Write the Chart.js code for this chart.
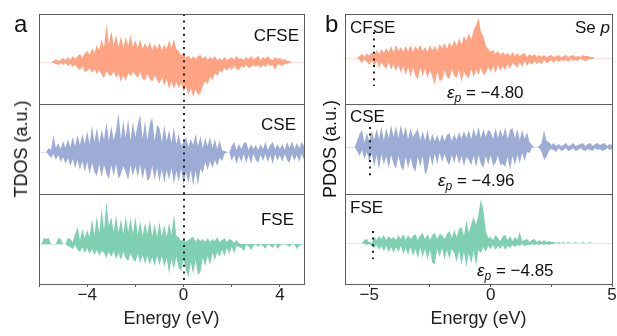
<!DOCTYPE html>
<html><head><meta charset="utf-8">
<script src="https://cdn.jsdelivr.net/npm/chart.js@4/dist/chart.umd.min.js"></script>
<style>
html,body{margin:0;padding:0;background:#fff;}
#wrap{position:relative;width:617px;height:336px;overflow:hidden;font-family:Arial,"Liberation Sans",sans-serif;color:#111;}
canvas{position:absolute;top:0;}
.t{position:absolute;white-space:nowrap;line-height:1;font-size:17px;}
.big{font-size:24px;}
.ax{font-size:18px;transform:translate(-50%,-50%) rotate(-90deg);}
sub{font-size:12px;vertical-align:-4px;line-height:0;}
</style></head><body>
<div id="wrap">
<canvas id="ca" width="310" height="336" style="left:0"></canvas>
<canvas id="cb" width="307" height="336" style="left:310px"></canvas>
<div class="t big" style="left:14px;top:12px">a</div>
<div class="t big" style="left:325px;top:12px">b</div>
<div class="t ax" style="left:21px;top:149px">TDOS (a.u.)</div>
<div class="t ax" style="left:330px;top:149px">PDOS (a.u.)</div>
<div class="t" style="right:318px;top:27px">CFSE</div>
<div class="t" style="right:321px;top:116px">CSE</div>
<div class="t" style="right:323px;top:211px">FSE</div>
<div class="t" style="left:350px;top:19px">CFSE</div>
<div class="t" style="right:7px;top:19px">Se <i>p</i></div>
<div class="t" style="left:350px;top:108px">CSE</div>
<div class="t" style="left:350px;top:199px">FSE</div>
<div class="t" style="left:447px;top:84px"><i>ε</i><sub><i>p</i></sub> = −4.80</div>
<div class="t" style="left:438px;top:172px"><i>ε</i><sub><i>p</i></sub> = −4.96</div>
<div class="t" style="left:477px;top:262px"><i>ε</i><sub><i>p</i></sub> = −4.85</div>
</div>
<script>
// Energy grid (eV)
const energy = [
-6.0,-5.9,-5.8,-5.7,-5.6,-5.5,-5.4,-5.3,-5.2,-5.1,
-5.0,-4.9,-4.8,-4.7,-4.6,-4.5,-4.4,-4.3,-4.2,-4.1,
-4.0,-3.9,-3.8,-3.7,-3.6,-3.5,-3.4,-3.3,-3.2,-3.1,
-3.0,-2.9,-2.8,-2.7,-2.6,-2.5,-2.4,-2.3,-2.2,-2.1,
-2.0,-1.9,-1.8,-1.7,-1.6,-1.5,-1.4,-1.3,-1.2,-1.1,
-1.0,-0.9,-0.8,-0.7,-0.6,-0.5,-0.4,-0.3,-0.2,-0.1,
0.0,0.1,0.2,0.3,0.4,0.5,0.6,0.7,0.8,0.9,
1.0,1.1,1.2,1.3,1.4,1.5,1.6,1.7,1.8,1.9,
2.0,2.1,2.2,2.3,2.4,2.5,2.6,2.7,2.8,2.9,
3.0,3.1,3.2,3.3,3.4,3.5,3.6,3.7,3.8,3.9,
4.0,4.1,4.2,4.3,4.4,4.5,4.6,4.7,4.8,4.9,5.0];

// Panel a: TDOS (spin up / spin down)
const tdosCFSEup = [
0,0,0,0,0,0,1,3,1,2,
4,2,5,2,6,3,6,8,4,9,
11,7,14,9,17,12,23,14,38,18,
31,17,27,15,26,14,25,16,27,15,
22,14,23,13,19,14,20,12,18,13,
19,12,17,13,22,14,23,13,11,7,
9,4,7,3,6,3,6,7,3,6,
2,5,3,6,2,4,2,5,2,3,
5,2,6,3,4,2,5,3,6,3,
4,6,2,5,3,6,3,2,5,3,
4,2,3,1,1,0,0,0,0,0,0];
const tdosCFSEdn = [
0,0,0,0,0,0,-1,-2,-3,-1,
-3,-1,-4,-2,-5,-3,-6,-8,-4,-10,
-9,-6,-11,-7,-12,-8,-13,-16,-9,-13,
-14,-9,-16,-12,-20,-13,-19,-11,-14,-10,
-13,-16,-10,-17,-18,-12,-17,-20,-13,-18,
-22,-15,-24,-17,-27,-19,-27,-20,-26,-21,
-30,-24,-33,-26,-35,-27,-33,-31,-24,-19,
-22,-15,-18,-11,-14,-9,-10,-6,-9,-5,
-8,-4,-7,-8,-4,-6,-3,-6,-5,-3,
-5,-3,-6,-3,-5,-2,-4,-3,-8,-2,
-3,-4,-2,-2,-1,0,0,0,0,0,0];
const tdosCSEup = [
0,0,0,0,4,2,17,4,9,3,
11,4,13,5,15,6,17,7,18,8,
21,8,26,10,24,9,22,12,30,11,
26,12,22,39,13,31,14,33,12,30,
15,28,37,13,31,12,29,34,11,27,
24,10,27,11,22,9,25,8,18,6,
10,15,5,13,7,18,6,16,4,14,
6,15,4,13,3,12,2,1,0,0,
6,10,2,8,3,9,10,2,8,3,
7,2,8,3,10,2,7,10,3,8,
3,8,2,10,4,11,3,9,4,10,6];
const tdosCSEdn = [
0,0,0,0,-3,-6,-2,-8,-3,-10,
-5,-12,-6,-14,-7,-16,-8,-18,-9,-20,
-10,-22,-11,-20,-24,-12,-25,-13,-22,-27,
-13,-24,-12,-27,-22,-14,-20,-28,-13,-24,
-14,-25,-13,-27,-15,-29,-26,-14,-28,-16,
-30,-17,-31,-18,-28,-16,-32,-19,-30,-17,
-33,-20,-32,-18,-34,-19,-33,-17,-21,-10,
-18,-9,-16,-8,-14,-6,-9,-2,0,0,
-9,-3,-12,-4,-10,-2,-11,-3,-12,-2,
-8,-11,-3,-9,-2,-10,-3,-12,-2,-9,
-3,-10,-2,-8,-11,-2,-9,-3,-10,-2,-8];
const tdosFSEup = [
0,0,6,5,6,0,0,0,6,5,
0,0,6,5,2,10,17,4,15,6,
14,7,25,9,28,11,35,14,42,18,
27,12,29,11,25,10,28,12,26,10,
27,9,23,8,21,10,24,8,20,7,
22,8,19,7,21,9,30,8,7,3,
5,2,4,6,7,2,6,3,5,2,
6,2,5,3,7,2,4,6,2,5,
4,1,4,1,0,0,0,0,0,0,
0,0,0,0,0,0,0,0,0,0,
0,0,0,0,0,0,0,0,0,0,0];
const tdosFSEdn = [
0,0,0,0,0,0,0,0,0,0,
0,0,-2,-3,-5,-1,-6,-8,-3,-9,
-4,-10,-5,-11,-6,-12,-7,-9,-14,-8,
-13,-7,-15,-9,-16,-8,-14,-17,-9,-15,
-18,-10,-19,-11,-20,-12,-21,-13,-22,-12,
-21,-12,-23,-14,-30,-15,-25,-13,-24,-27,
-15,-26,-33,-18,-30,-16,-31,-28,-14,-22,
-12,-21,-9,-16,-8,-13,-6,-12,-4,-10,
-3,-9,-2,-3,-4,-7,-1,-2,-6,-2,
0,-3,0,-2,-5,0,-2,-4,0,-5,
-2,0,0,-1,-3,0,0,-5,-2,0,0];

// Panel b: Se p PDOS (spin up / spin down)
const pdosCFSEup = [
0,0,0,0,0,0,2,4,1,5,
2,6,3,8,4,9,5,10,6,12,
5,13,7,11,6,12,7,13,6,12,
8,13,7,11,6,13,8,12,7,14,
10,15,9,16,11,18,12,20,13,22,
17,25,18,28,33,40,26,22,12,9,
6,8,4,7,3,6,3,5,2,6,
2,5,2,4,5,1,4,2,4,1,
3,1,3,1,2,3,1,2,3,1,
2,3,1,2,3,1,2,1,3,2,
2,1,1,0,0,0,0,0,0,0,0];
const pdosCFSEdn = [
0,0,0,0,0,0,-2,-5,-1,-4,
-7,-2,-9,-3,-10,-4,-8,-11,-4,-12,
-6,-13,-7,-15,-8,-17,-9,-19,-10,-18,
-21,-10,-18,-11,-20,-12,-19,-27,-13,-23,
-22,-12,-19,-21,-11,-18,-20,-12,-24,-14,
-18,-20,-11,-19,-12,-17,-10,-17,-15,-9,
-14,-8,-15,-7,-13,-8,-12,-6,-11,-5,
-7,-10,-4,-9,-3,-8,-4,-7,-3,-6,
-4,-6,-2,-5,-4,-2,-5,-2,-4,-2,
-3,-2,-4,-1,-3,-2,-3,-1,-2,-3,
-2,-1,-1,0,0,0,0,0,0,0,0];
const pdosCSEup = [
0,0,0,0,0,6,13,17,4,14,
6,16,7,18,8,20,7,19,9,22,
10,21,9,22,11,20,8,19,10,14,
18,7,16,6,17,5,13,6,12,5,
13,6,12,14,6,13,7,15,8,16,
9,17,8,19,10,20,9,18,10,17,
15,8,19,9,18,10,20,8,17,19,
9,18,7,17,8,15,5,2,0,0,
1,4,17,6,5,2,4,1,3,1,
2,4,1,2,4,1,2,3,4,1,
3,4,1,3,4,2,3,4,1,3,2];
const pdosCSEdn = [
0,0,0,0,0,-4,-9,-3,-12,-5,
-15,-6,-20,-8,-23,-7,-18,-9,-21,-8,
-17,-22,-9,-19,-24,-10,-21,-11,-20,-25,
-10,-20,-9,-28,-22,-8,-19,-7,-17,-6,
-15,-7,-14,-18,-8,-16,-7,-17,-9,-19,
-10,-13,-18,-9,-20,-8,-17,-21,-9,-18,
-8,-19,-16,-9,-18,-17,-20,-10,-23,-9,
-18,-8,-16,-6,-14,-5,-6,-1,0,0,
-1,-5,-13,-10,-4,-2,-3,-5,-1,-4,
-3,-1,-4,-3,-1,-4,-3,-1,-3,-4,
-2,-3,-4,-1,-3,-2,-4,-3,-1,-3,-2];
const pdosFSEup = [
0,0,0,0,0,0,0,0,3,4,
1,0,6,3,7,4,8,3,7,4,
6,3,8,4,9,3,8,4,7,9,
3,8,10,4,9,3,8,10,4,9,
8,4,9,12,5,13,6,14,16,7,
23,10,19,26,18,29,44,33,12,5,
6,3,8,5,2,7,8,3,7,2,
6,3,11,2,3,4,1,3,4,1,
3,1,3,1,2,1,1,0,1,0,
1,0,1,0,0,1,0,0,1,0,
0,1,0,0,0,0,0,0,0,0,0];
const pdosFSEdn = [
0,0,0,0,0,0,0,0,-1,-2,
-1,-3,-5,-2,-7,-3,-8,-3,-9,-4,
-10,-4,-9,-3,-11,-5,-12,-4,-13,-6,
-15,-5,-14,-6,-17,-7,-20,-21,-6,-14,
-5,-17,-7,-16,-6,-10,-19,-8,-22,-9,
-24,-10,-21,-8,-23,-7,-10,-4,-9,-3,
-6,-2,-7,-3,-6,-2,-7,-3,-5,-2,
-4,-2,-3,-1,-3,-2,-2,-1,-2,-1,
-2,-1,-2,-1,-2,-1,-1,0,-1,0,
0,0,0,0,0,0,0,0,0,0,
0,0,0,0,0,0,0,0,0,0,0];

// Reference energies
const fermiLevel = 0;
const epsP = [-4.80, -4.96, -4.85]; // CFSE, CSE, FSE

// Tick values / labels
const ticksA = [-6, -4, -2, 0, 2, 4];
const tickLabelsA = ['', '\u22124', '', '0', '', '4'];
const ticksB = [-5, -2.5, 0, 2.5, 5];
const tickLabelsB = ['\u22125', '', '0', '', '5'];

const COL = {CFSE: '#FFA382', CSE: '#9DACD5', FSE: '#7FCFB2'};
const LIGHT = {CFSE: '#FDE3D8', CSE: '#DCE2F1', FSE: '#D3F0E5'};

function pts(arr) { return energy.map((e, i) => ({x: e, y: arr[i]})); }
function ds(arr, color, axis) {
  return {data: pts(arr), yAxisID: axis, backgroundColor: color, borderWidth: 0,
    pointRadius: 0, fill: 'origin', tension: 0};
}

const decor = {
  id: 'decor',
  beforeDatasetsDraw(chart, args, opts) {
    const {ctx, chartArea: a} = chart;
    ctx.save();
    opts.baselines.forEach(b => {
      const y = Math.round(chart.scales[b.id].getPixelForValue(0)) + 0.5;
      ctx.strokeStyle = b.color; ctx.lineWidth = 1;
      ctx.beginPath(); ctx.moveTo(a.left, y); ctx.lineTo(a.right, y); ctx.stroke();
    });
    ctx.restore();
  },
  afterDatasetsDraw(chart, args, opts) {
    const {ctx, chartArea: a} = chart;
    ctx.save();
    ctx.strokeStyle = '#222'; ctx.lineWidth = 2; ctx.setLineDash([2, 4.6]);
    opts.dots.forEach(d => {
      const x = Math.round(chart.scales.x.getPixelForValue(d.x));
      let y0, y1;
      if (d.full) { y0 = a.top; y1 = a.bottom; }
      else { const s = chart.scales[d.id]; y0 = s.getPixelForValue(d.from); y1 = s.getPixelForValue(d.to); }
      ctx.beginPath(); ctx.moveTo(x, y0); ctx.lineTo(x, y1); ctx.stroke();
    });
    ctx.setLineDash([]);
    ctx.strokeStyle = '#5c5c5c'; ctx.lineWidth = 1;
    opts.frames.forEach(id => {
      const s = chart.scales[id];
      ctx.strokeRect(Math.round(a.left) + 0.5, Math.round(s.top) + 0.5,
        Math.round(a.right - a.left), Math.round(s.bottom - s.top));
    });
    ctx.restore();
  }
};

function yAxis(min, max) {
  return {type: 'linear', position: 'left', stack: 'p', stackWeight: 1, min, max,
    display: true, ticks: {display: false}, grid: {display: false}, border: {display: false},
    afterFit: s => { s.width = 0; }};
}
function xAxis(tv, tl) {
  return {type: 'linear', position: 'bottom', min: -6, max: 5,
    afterBuildTicks: s => { s.ticks = tv.map(v => ({value: v})); },
    afterFit: s => { s.height = 52; },
    ticks: {autoSkip: false, maxRotation: 0, padding: -2, color: '#222',
      font: {family: 'Arial, "Liberation Sans", sans-serif', size: 17},
      callback: (v, i) => tl[i]},
    grid: {display: true, drawOnChartArea: false, drawTicks: true, tickLength: 3, color: '#5c5c5c'},
    border: {display: false},
    title: {display: true, text: 'Energy (eV)', color: '#222', padding: {top: 0, bottom: 6},
      font: {family: 'Arial, "Liberation Sans", sans-serif', size: 18}}};
}

function makeChart(id, sets, ranges, tv, tl, pad, dots) {
  return new Chart(document.getElementById(id), {
    type: 'line',
    data: {datasets: [
      ds(sets.FSE[0], COL.FSE, 'yF'), ds(sets.FSE[1], COL.FSE, 'yF'),
      ds(sets.CSE[0], COL.CSE, 'yC'), ds(sets.CSE[1], COL.CSE, 'yC'),
      ds(sets.CFSE[0], COL.CFSE, 'yCF'), ds(sets.CFSE[1], COL.CFSE, 'yCF')]},
    options: {
      responsive: false, animation: false, events: [],
      layout: {padding: pad},
      scales: {
        x: xAxis(tv, tl),
        yF: yAxis(ranges.FSE[0], ranges.FSE[1]),
        yC: yAxis(ranges.CSE[0], ranges.CSE[1]),
        yCF: yAxis(ranges.CFSE[0], ranges.CFSE[1])
      },
      plugins: {legend: {display: false}, tooltip: {enabled: false},
        decor: {frames: ['yCF', 'yC', 'yF'],
          baselines: [{id: 'yCF', color: LIGHT.CFSE}, {id: 'yC', color: LIGHT.CSE}, {id: 'yF', color: LIGHT.FSE}],
          dots}}
    },
    plugins: [decor]
  });
}

makeChart('ca',
  {CFSE: [tdosCFSEup, tdosCFSEdn], CSE: [tdosCSEup, tdosCSEdn], FSE: [tdosFSEup, tdosFSEdn]},
  {CFSE: [-42, 48], CSE: [-42, 48], FSE: [-40, 50]},
  ticksA, tickLabelsA, {left: 39, top: 14, right: 6, bottom: 0},
  [{x: fermiLevel, full: true}]);

makeChart('cb',
  {CFSE: [pdosCFSEup, pdosCFSEdn], CSE: [pdosCSEup, pdosCSEdn], FSE: [pdosFSEup, pdosFSEdn]},
  {CFSE: [-46, 44], CSE: [-47, 43], FSE: [-41, 49]},
  ticksB, tickLabelsB, {left: 35, top: 14, right: 5, bottom: 0},
  [{x: epsP[0], id: 'yCF', from: 26, to: -28},
   {x: epsP[1], id: 'yC', from: 20, to: -29},
   {x: epsP[2], id: 'yF', from: 12, to: -16}]);
</script>
</body></html>
